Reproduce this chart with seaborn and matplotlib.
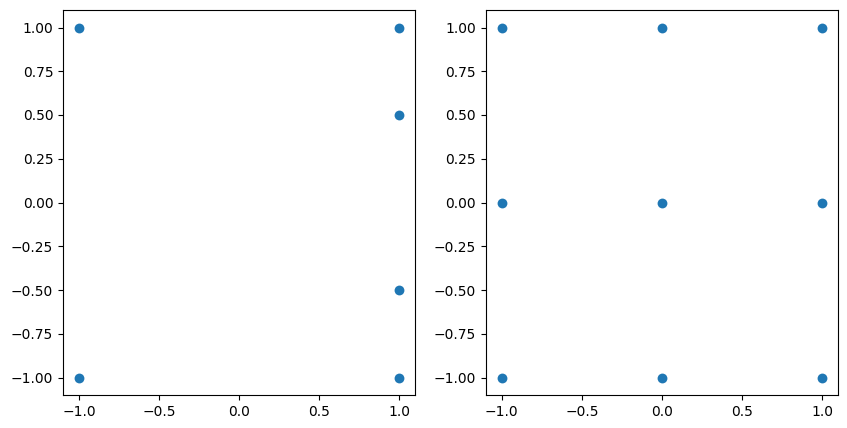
import pandas as pd
import seaborn as sns
import matplotlib.pyplot as plt

# left panel points
left_x = [-1, 1, 1, 1, -1, 1]
left_y = [1, 1, 0.5, -0.5, -1, -1]

# right panel points (3x3 grid)
right_x = [-1, 0, 1, -1, 0, 1, -1, 0, 1]
right_y = [1, 1, 1, 0, 0, 0, -1, -1, -1]

fig, axes = plt.subplots(1, 2, figsize=(8.47, 4.28), dpi=100)
fig.subplots_adjust(left=63 / 847, right=838 / 847, top=1 - 10 / 428, bottom=1 - 395 / 428, wspace=0.2)

panels = [(axes[0], left_x, left_y), (axes[1], right_x, right_y)]
for ax, xs, ys in panels:
    df = pd.DataFrame({'x': xs, 'y': ys})
    sns.scatterplot(data=df, x='x', y='y', ax=ax, color='#1f77b4', s=50, linewidth=0)
    ax.set_xlabel(None)
    ax.set_ylabel(None)
    ax.set_xticks([-1.0, -0.5, 0.0, 0.5, 1.0])
    ax.set_yticks([-1.0, -0.75, -0.5, -0.25, 0.0, 0.25, 0.5, 0.75, 1.0])
    ax.set_xlim(-1.1, 1.1)
    ax.set_ylim(-1.1, 1.1)

plt.savefig('out.png', dpi=100)
